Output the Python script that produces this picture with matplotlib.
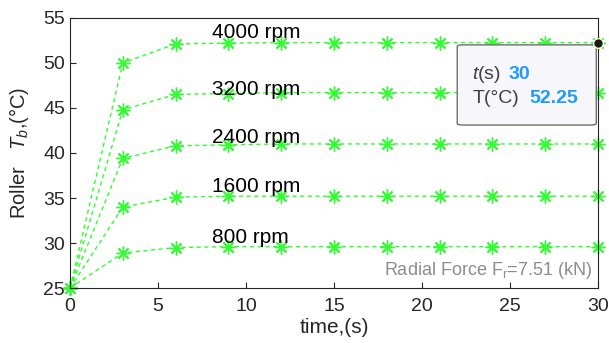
import numpy as np
import matplotlib.pyplot as plt
from matplotlib.patches import FancyBboxPatch

plt.rcParams['font.family'] = ['Liberation Sans', 'DejaVu Sans']
plt.rcParams['mathtext.fontset'] = 'custom'
plt.rcParams['mathtext.rm'] = 'Liberation Sans'
plt.rcParams['mathtext.it'] = 'Liberation Sans:italic'

# datos
tiempo = [0, 3, 6, 9, 12, 15, 18, 21, 24, 27, 30]
t_4000 = [25, 50.0, 52.1, 52.2, 52.25, 52.25, 52.25, 52.25, 52.25, 52.25, 52.25]
t_3200 = [25, 44.8, 46.5, 46.6, 46.7, 46.7, 46.7, 46.7, 46.7, 46.7, 46.7]
t_2400 = [25, 39.4, 40.8, 40.9, 41.0, 41.0, 41.0, 41.0, 41.0, 41.0, 41.0]
t_1600 = [25, 34.0, 35.1, 35.2, 35.2, 35.2, 35.2, 35.2, 35.2, 35.2, 35.2]
t_800 = [25, 28.9, 29.5, 29.6, 29.6, 29.6, 29.6, 29.6, 29.6, 29.6, 29.6]
series = [t_4000, t_3200, t_2400, t_1600, t_800]
etiquetas = ['4000 rpm', '3200 rpm', '2400 rpm', '1600 rpm', '800 rpm']
pos_etiquetas = [52.75, 46.45, 41.1, 35.65, 30.0]

fig = plt.figure(figsize=(6.09, 3.43), dpi=100)
ax = fig.add_axes([0.115, 0.16, 0.867, 0.788])

verde = '#2eff2e'
for s in series:
    ax.plot(tiempo, s, '--', color=verde, lw=1.0, marker=(8, 2, 0),
            markersize=10, markeredgewidth=1.0, dashes=(3, 2.5), clip_on=False)

for txt, yy in zip(etiquetas, pos_etiquetas):
    ax.text(8.05, yy, txt, fontsize=15, color='black', va='baseline', ha='left')

ax.text(29.7, 27.0, 'Radial Force F$_\\mathregular{r}$=7.51 (kN)', fontsize=13,
        color='#8c8c8c', ha='right', va='center')

# punto del datatip
ax.plot(30, 52.25, 'o', color='#1a1a1a', markersize=7, markeredgecolor='#ffffcc',
        markeredgewidth=1, clip_on=False, zorder=6)

caja = FancyBboxPatch((22.0, 43.1), 7.9, 8.9, boxstyle='round,pad=0,rounding_size=0.35',
                      facecolor='#f6f6fb', edgecolor='#6e6e6e', lw=1.0, zorder=5,
                      mutation_aspect=0.5)
ax.add_patch(caja)
gris = '#404040'
azul = '#1e9bff'
ax.text(22.85, 48.7, '$t$(s)', fontsize=14, color=gris, va='center', zorder=7)
ax.text(24.9, 48.7, '30', fontsize=14, color=azul, weight='bold', va='center', zorder=7)
ax.text(22.85, 46.1, 'T(°C)', fontsize=14, color=gris, va='center', zorder=7)
ax.text(26.1, 46.1, '52.25', fontsize=14, color=azul, weight='bold', va='center', zorder=7)

ax.set_xlim(0, 30)
ax.set_ylim(25, 55)
ax.set_xticks(np.arange(0, 31, 5))
ax.set_yticks(np.arange(25, 56, 5))
ax.tick_params(direction='in', labelsize=14, colors='#262626', length=4)
ax.tick_params(axis='x', pad=7)
for sp in ax.spines.values():
    sp.set_color('#262626')
    sp.set_linewidth(0.8)

ax.set_xlabel('time,(s)', fontsize=15, color='#262626', labelpad=2)
ax.set_ylabel('Roller   $T_b$,(°C)', fontsize=14.5, color='#262626', labelpad=9)

plt.savefig('out.png', dpi=100)
